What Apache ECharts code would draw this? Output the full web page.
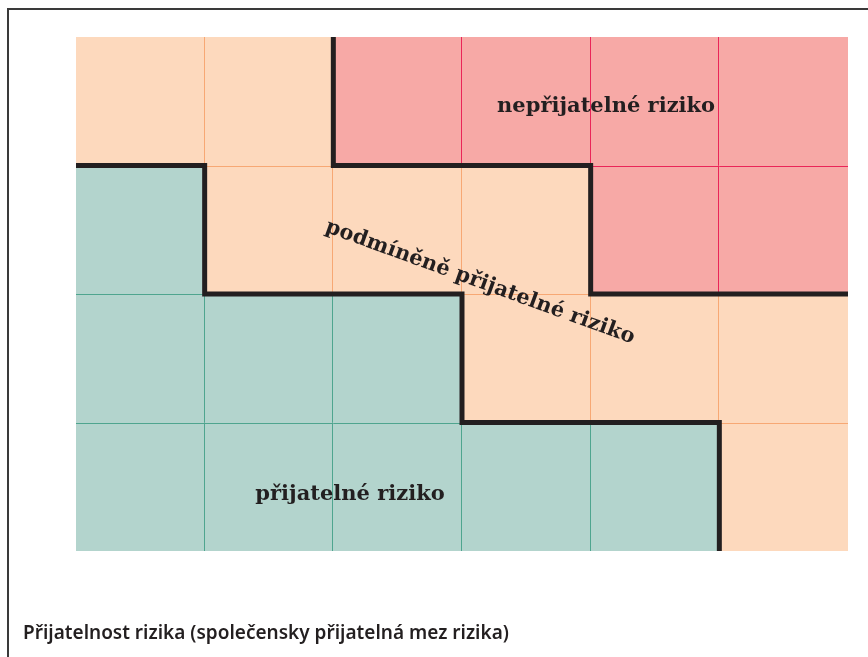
<!DOCTYPE html>
<html>
<head>
<meta charset="utf-8">
<script src="https://cdn.jsdelivr.net/npm/echarts@6/dist/echarts.min.js"></script>
<style>
  html, body { margin: 0; padding: 0; background: #fff; }
  #chart { width: 868px; height: 657px; }
</style>
</head>
<body>
<div id="chart"></div>
<script>
// matice rizika, řádky odspodu (0 = přijatelné, 1 = podmíněně, 2 = nepřijatelné)
const riskRows = [
  [0, 0, 0, 0, 0, 1],
  [0, 0, 0, 1, 1, 1],
  [0, 1, 1, 1, 2, 2],
  [1, 1, 2, 2, 2, 2]
]
// hranice přijatelného rizika (v jednotkách buněk)
const acceptX = [0, 1, 1, 3, 3, 5, 5]
const acceptY = [3, 3, 2, 2, 1, 1, 0]
// hranice nepřijatelného rizika
const unacceptX = [2, 2, 4, 4, 6]
const unacceptY = [4, 3, 3, 2, 2]
const zoneNames = ['přijatelné riziko', 'podmíněně přijatelné riziko', 'nepřijatelné riziko']

const fills = ['#B3D4CD', '#FDD9BD', '#F7A9A6']
const strokes = ['#4FA58F', '#F7A874', '#EA2558']
const nCols = riskRows[0].length
const nRows = riskRows.length

let cells = []
riskRows.forEach(function (row, y) {
  row.forEach(function (z, x) { cells.push([x, y, z]) })
})

let myChart = echarts.init(document.getElementById('chart'))
let labelFont = { fontFamily: 'DejaVu Serif', fontWeight: 'bold', fontSize: 21, color: '#231F20', opacity: 1 }

// čára o tloušťce 1 px zarovnaná na pixel
function crisp (v) { return Math.round(v) + 0.5 }

// výplň buněk
function renderCell (params, api) {
  let x = api.value(0), y = api.value(1), z = api.value(2)
  let p0 = api.coord([x, y + 1])
  let p1 = api.coord([x + 1, y])
  let l = Math.round(p0[0]), t = Math.round(p0[1])
  return {
    type: 'rect',
    shape: { x: l, y: t, width: Math.round(p1[0]) - l, height: Math.round(p1[1]) - t },
    style: { fill: fills[z] }
  }
}

// vnitřní čáry mřížky v barvě zóny (pravý a horní okraj buňky)
function renderCellLines (params, api) {
  let x = api.value(0), y = api.value(1), z = api.value(2)
  let p0 = api.coord([x, y + 1])
  let p1 = api.coord([x + 1, y])
  let children = []
  if (x < nCols - 1) {
    children.push({
      type: 'line',
      shape: { x1: crisp(p1[0]) - 1, y1: p0[1], x2: crisp(p1[0]) - 1, y2: p1[1] },
      style: { stroke: strokes[z], lineWidth: 1 }
    })
  }
  if (y < nRows - 1) {
    children.push({
      type: 'line',
      shape: { x1: p0[0], y1: crisp(p0[1]), x2: p1[0], y2: crisp(p0[1]) },
      style: { stroke: strokes[z], lineWidth: 1 }
    })
  }
  return { type: 'group', children: children }
}

let option = {
  animation: false,
  title: {
    text: 'Přijatelnost rizika (společensky přijatelná mez rizika)',
    left: 18,
    top: 619,
    textStyle: { fontFamily: 'Noto Sans', fontWeight: 600, fontSize: 19, color: '#231F20' }
  },
  graphic: [{
    type: 'rect',
    shape: { x: 8, y: 9, width: 2000, height: 2000 },
    style: { fill: 'none', stroke: '#3a3a3a', lineWidth: 2 },
    silent: true
  }],
  grid: { left: 76, top: 37, width: 772, height: 514 },
  xAxis: { type: 'value', min: 0, max: nCols, show: false },
  yAxis: { type: 'value', min: 0, max: nRows, show: false },
  series: [
    {
      type: 'custom',
      data: cells,
      z: 1,
      silent: true,
      renderItem: renderCell
    },
    {
      type: 'custom',
      data: cells,
      z: 2,
      silent: true,
      renderItem: renderCellLines
    },
    {
      type: 'line',
      z: 5,
      symbol: 'none',
      silent: true,
      data: acceptX.map(function (v, i) { return [v, acceptY[i]] }),
      lineStyle: { color: '#231F20', width: 5, join: 'miter', cap: 'butt' }
    },
    {
      type: 'line',
      z: 5,
      symbol: 'none',
      silent: true,
      data: unacceptX.map(function (v, i) { return [v, unacceptY[i]] }),
      lineStyle: { color: '#231F20', width: 5, join: 'miter', cap: 'butt' }
    },
    {
      type: 'scatter',
      z: 10,
      symbolSize: 0,
      silent: true,
      itemStyle: { opacity: 1 },
      data: [
        { value: [2.13, 0.44], label: { formatter: zoneNames[0] } },
        { value: [3.14, 2.09], label: { formatter: zoneNames[1], rotate: -20 } },
        { value: [4.12, 3.46], label: { formatter: zoneNames[2] } }
      ],
      label: Object.assign({ show: true, position: 'inside' }, labelFont)
    }
  ]
}
myChart.setOption(option, true)
</script>
</body>
</html>
